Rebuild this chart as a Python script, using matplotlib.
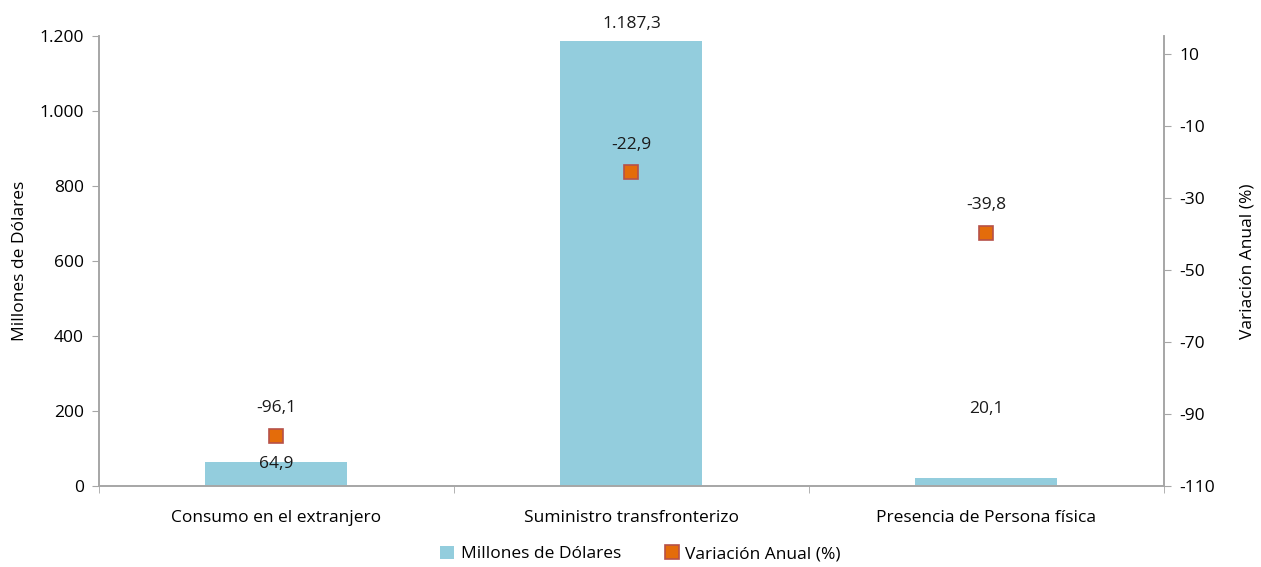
import numpy as np
import matplotlib.pyplot as plt
from matplotlib.ticker import FuncFormatter

categorias = ["Consumo en el extranjero", "Suministro transfronterizo", "Presencia de Persona física"]
millones = [64.9, 1187.3, 20.1]
variacion = [-96.1, -22.9, -39.8]
# desplazamiento vertical de las etiquetas de barra (puntos), como en el original
offset_barras = [-2, 12, 50]

AZUL = "#93CDDD"
NARANJA = "#E46C0A"
BORDE = "#B65149"
GRIS = "#A6A6A6"


def fmt_es(v, decimales=1):
    s = f"{v:,.{decimales}f}"
    return s.replace(",", "X").replace(".", ",").replace("X", ".")


plt.rcParams["font.family"] = ["Open Sans", "DejaVu Sans"]
plt.rcParams["font.size"] = 12.5
plt.rcParams["axes.unicode_minus"] = False

fig = plt.figure(figsize=(12.61, 5.67), dpi=100)
ax = fig.add_axes([0.0785, 0.1429, 0.8445, 0.7936])
ax2 = ax.twinx()

x = np.arange(len(categorias))
ax.bar(x, millones, width=0.4, color=AZUL, label="Millones de Dólares", zorder=2)
ax2.plot(x, variacion, linestyle="none", marker="s", markersize=10,
         markerfacecolor=NARANJA, markeredgecolor=BORDE, markeredgewidth=1.2,
         label="Variación Anual (%)", zorder=3)

for xi, v, off in zip(x, millones, offset_barras):
    ax.annotate(fmt_es(v), (xi, v), xytext=(0, off), textcoords="offset points",
                ha="center", va="center", color="#1a1a1a")
for xi, v in zip(x, variacion):
    ax2.annotate(fmt_es(v), (xi, v), xytext=(0, 20), textcoords="offset points",
                 ha="center", va="center", color="#1a1a1a")

ax.set_xlim(-0.5, len(categorias) - 0.5)
ax.set_ylim(0, 1200)
ax.set_yticks(np.arange(0, 1201, 200))
ax.yaxis.set_major_formatter(FuncFormatter(lambda v, p: fmt_es(v, 0)))
ax2.set_ylim(-110, 15)
ax2.set_yticks(np.arange(-110, 11, 20))

ax.set_xticks(x)
ax.set_xticklabels(categorias)
ax.set_xticks(np.arange(-0.5, len(categorias), 1), minor=True)
ax.tick_params(axis="x", which="major", length=0, pad=17)
ax.tick_params(axis="x", which="minor", length=5, color=GRIS)
ax.tick_params(axis="y", length=5, color=GRIS, pad=6)
ax2.tick_params(axis="y", length=5, color=GRIS, pad=6)

for a in (ax, ax2):
    a.spines["top"].set_visible(False)
    for s in ("left", "right", "bottom"):
        a.spines[s].set_color(GRIS)
        a.spines[s].set_linewidth(1.2)

ax.set_ylabel("Millones de Dólares", labelpad=8)
ax2.set_ylabel("Variación Anual (%)", labelpad=18)

h1, l1 = ax.get_legend_handles_labels()
h2, l2 = ax2.get_legend_handles_labels()
fig.legend(h1 + h2, l1 + l2, loc="center", bbox_to_anchor=(0.508, 0.023), ncol=2,
           frameon=False, handlelength=0.8, handleheight=0.8, columnspacing=2.5,
           handletextpad=0.4)

fig.savefig("out.png", dpi=100)
